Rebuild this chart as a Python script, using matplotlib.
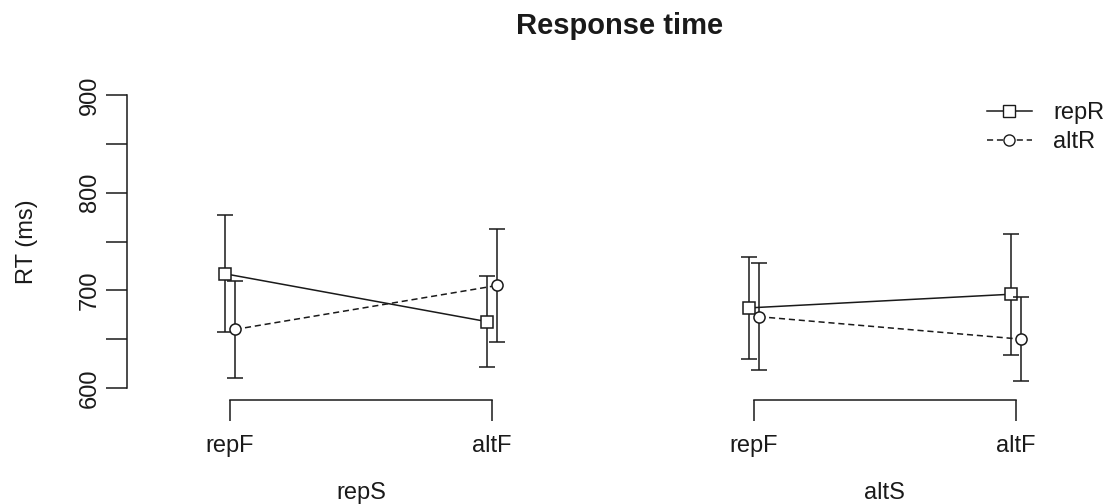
"""Response time by stimulus / feature / response repetition, R base-graphics look."""
import numpy as np
import matplotlib
matplotlib.use("Agg")
import matplotlib.pyplot as plt
from matplotlib.lines import Line2D

# data (ms), order: repS-repF, repS-altF, altS-repF, altS-altF
groups = ["repS", "altS"]
features = ["repF", "altF"]
repR_mean = [717, 668, 682, 696]
repR_err = [60, 47, 52, 62]
altR_mean = [660, 705, 673, 650]
altR_err = [50, 58, 55, 43]
yticks = [600, 650, 700, 750, 800, 850, 900]

plt.rcParams.update({"font.family": ["Liberation Sans", "DejaVu Sans"], "font.size": 17})
ink = "#1a1a1a"

W, H = 1113, 504
fig = plt.figure(figsize=(W / 100, H / 100), dpi=100)
# plot region in pixels: left 127, right 1105, top 80, bottom 400
ax = fig.add_axes([127 / W, (H - 400) / H, (1105 - 127) / W, (400 - 80) / H])

pos = np.arange(1, 5)
off = 0.02
series = [
    ("repR", repR_mean, repR_err, "s", "-", -off),
    ("altR", altR_mean, altR_err, "o", (0, (4, 2.5)), off),
]
for name, m, e, mk, ls, dx in series:
    m = np.asarray(m); e = np.asarray(e)
    x = pos + dx
    ax.errorbar(x, m, yerr=e, fmt="none", ecolor=ink, elinewidth=1.1,
                capsize=6, capthick=1.1)
    for g in range(2):
        sl = slice(2 * g, 2 * g + 2)
        ax.plot(x[sl], m[sl], color=ink, lw=1.1, linestyle=ls, marker=mk,
                ms=8, mfc="white", mec=ink, mew=1.1)

ax.set_xlim(0.607, 4.34)
ax.set_ylim(587.7, 915.4)

for s in ["top", "right", "bottom"]:
    ax.spines[s].set_visible(False)
ax.spines["left"].set_bounds(yticks[0], yticks[-1])
ax.spines["left"].set_color(ink)
ax.spines["left"].set_linewidth(1.1)
ax.set_yticks(yticks)
ax.set_yticklabels([str(t) if t % 100 == 0 else "" for t in yticks],
                   rotation=90, va="center")
ax.tick_params(axis="y", length=15, width=1.1, pad=4, color=ink, labelcolor=ink)

ax.set_xticks(pos)
ax.set_xticklabels(features * len(groups))
ax.tick_params(axis="x", length=15, width=1.1, pad=10, color=ink, labelcolor=ink)
xt = ax.get_xaxis_transform()
for g, name in enumerate(groups):
    xs = pos[2 * g:2 * g + 2]
    ax.plot(xs, [0, 0], color=ink, lw=1.1, transform=xt, clip_on=False)
    ax.text(xs.mean(), -0.29, name, transform=xt, ha="center", va="center", color=ink)

fig.text(27 / W, 1 - 242 / H, "RT (ms)", rotation=90, ha="center", va="center", color=ink)
fig.text(620 / W, 1 - 26 / H, "Response time", ha="center", va="center",
         fontsize=21, fontweight="bold", color=ink)

handles = [Line2D([], [], color=ink, lw=1.1, linestyle=ls, marker=mk, ms=8,
                  mfc="white", mec=ink) for _, _, _, mk, ls, _ in series]
ax.legend(handles, [s[0] for s in series], loc="upper left",
          bbox_to_anchor=(987 / W, 1 - 102 / H), bbox_transform=fig.transFigure,
          frameon=False, borderpad=0, borderaxespad=0, handlelength=1.9,
          handletextpad=0.9, labelspacing=0.3, labelcolor=ink)

fig.savefig("out.png", dpi=100)
